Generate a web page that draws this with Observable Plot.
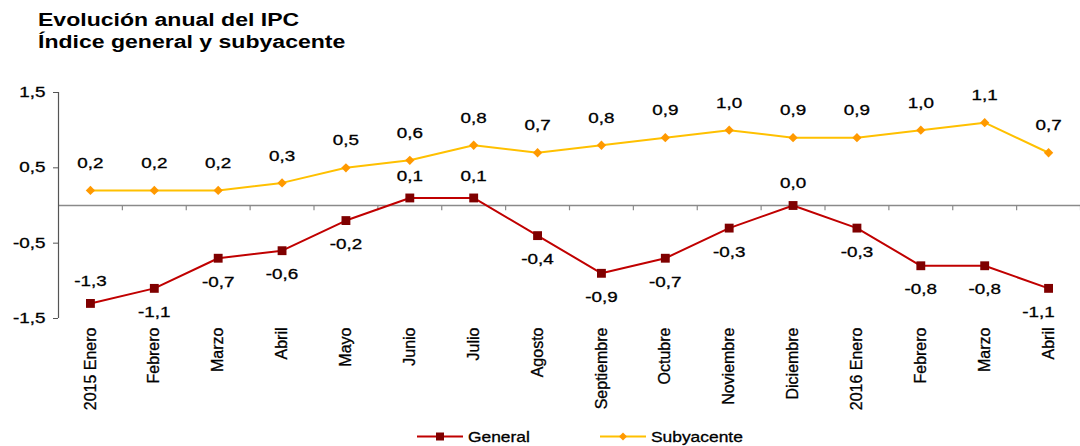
<!DOCTYPE html>
<html>
<head>
<meta charset="utf-8">
<script src="https://cdn.jsdelivr.net/npm/d3@7"></script>
<script src="https://cdn.jsdelivr.net/npm/@observablehq/plot@0.6"></script>
<style>
  body { margin: 0; background: #fff; font-family: "Liberation Sans", Arial, sans-serif; }
  #wrap { width: 1080px; height: 446px; position: relative; overflow: hidden; }
  #title { position: absolute; left: 38px; top: 9px; font-weight: bold; font-size: 18px; line-height: 22px; color: #000; transform: scaleX(1.28); transform-origin: 0 0; white-space: nowrap; }
  #chart { position: absolute; left: 0; top: 60px; }
  #chart text, #legend text { stroke: #000; stroke-width: 0.3px; }
  #legend { position: absolute; left: 0; top: 427px; width: 1080px; height: 19px; }
  #legend svg { display: block; }
</style>
</head>
<body>
<div id="wrap">
  <div id="title">Evolución anual del IPC<br>Índice general y subyacente</div>
  <div id="chart"></div>
  <div id="legend"></div>
</div>
<script>
const months = ["2015 Enero","Febrero","Marzo","Abril","Mayo","Junio","Julio","Agosto","Septiembre","Octubre","Noviembre","Diciembre","2016 Enero","Febrero ","Marzo ","Abril "];
const general = [-1.3,-1.1,-0.7,-0.6,-0.2,0.1,0.1,-0.4,-0.9,-0.7,-0.3,0.0,-0.3,-0.8,-0.8,-1.1];
const subyacente = [0.2,0.2,0.2,0.3,0.5,0.6,0.8,0.7,0.8,0.9,1.0,0.9,0.9,1.0,1.1,0.7];
const yTicks = [-1.5,-0.5,0.5,1.5];
const seriesNames = ["General", "Subyacente"];

// label placement for the general series (layout only)
const generalAbove = new Set([0,5,6,11]);

const fmt = v => d3.format(".1f")(v).replace(".", ",").replace("−","-");

const gen = months.map((m,i) => ({m, v: general[i], i}));
const sub = months.map((m,i) => ({m, v: subyacente[i], i}));

const W = 1080, ML = 58, MR = 0;
const step = (W - ML - MR) / months.length;
const FS = 14.5;

const chart = Plot.plot({
  width: W, height: 368,
  marginLeft: ML, marginRight: MR, marginTop: 32, marginBottom: 110,
  style: {fontFamily: "'Liberation Sans', Arial, sans-serif", fontSize: "15px", color: "#000", background: "#fff", overflow: "visible"},
  x: {type: "point", domain: months, padding: 0.5, round: false, label: null},
  y: {domain: [-1.5, 1.5], label: null},
  marks: [
    Plot.ruleY([0], {stroke: "#8a8a8a", strokeWidth: 1.5}),
    Plot.ruleX(months, {x: d => d, y1: 0, y2: -0.07, dx: step/2, stroke: "#8a8a8a", strokeWidth: 1.2}),
    Plot.ruleX([months[0]], {y1: -1.5, y2: 1.5, dx: -step/2, stroke: "#555", strokeWidth: 1.2}),
    Plot.axisY({ticks: yTicks, tickFormat: fmt, tickSize: 5, tickPadding: 8, stroke: "#555", fontSize: FS, fill: "#000"}),
    Plot.axisX({tickRotate: -90, tickSize: 0, tickPadding: 9, fontSize: 16, fill: "#000", tickFormat: d => d.trim()}),
    Plot.line(sub, {x: "m", y: "v", stroke: "#FFC000", strokeWidth: 2}),
    Plot.line(gen, {x: "m", y: "v", stroke: "#C00000", strokeWidth: 2}),
    Plot.dot(sub, {x: "m", y: "v", symbol: "diamond2", r: 4.2, fill: "#FF9900", stroke: "none"}),
    Plot.dot(gen, {x: "m", y: "v", symbol: "square", r: 5, fill: "#7F0000", stroke: "none"}),
    Plot.text(sub, {x: "m", y: "v", text: d => fmt(d.v), dy: -27, fontSize: FS, fill: "#000"}),
    Plot.text(gen.filter(d => generalAbove.has(d.i)), {x: "m", y: "v", text: d => fmt(d.v), dy: -22, fontSize: FS, fill: "#000"}),
    Plot.text(gen.filter(d => !generalAbove.has(d.i) && d.i !== 15), {x: "m", y: "v", text: d => fmt(d.v), dy: 24, fontSize: FS, fill: "#000"}),
    Plot.text(gen.filter(d => d.i === 15), {x: "m", y: "v", text: d => fmt(d.v), dy: 24, dx: -10, fontSize: FS, fill: "#000"})
  ]
});

// widen horizontal texts to match the reference's wide lettering
const SX = 1.3;
chart.querySelectorAll("text").forEach(t => {
  const tr = t.getAttribute("transform");
  if (tr && tr.includes("rotate")) return;
  if (tr) t.setAttribute("transform", tr + ` scale(${SX},1)`);
  else {
    const x = +t.getAttribute("x") || 0, y = +t.getAttribute("y") || 0;
    t.setAttribute("transform", `translate(${x},${y}) scale(${SX},1) translate(${-x},${-y})`);
  }
});
document.getElementById("chart").appendChild(chart);

// legend
const lg = d3.select("#legend").append("svg").attr("width", 1080).attr("height", 19);
const items = [
  {name: seriesNames[0], line: "#C00000", fill: "#7F0000", sym: d3.symbolSquare, x: 417, size: 64},
  {name: seriesNames[1], line: "#FFC000", fill: "#FF9900", sym: d3.symbolDiamond2, x: 600, size: 40}
];
items.forEach(it => {
  const g = lg.append("g").attr("transform", `translate(${it.x},9.5)`);
  g.append("line").attr("x1", 0).attr("x2", 46).attr("stroke", it.line).attr("stroke-width", 2);
  g.append("path").attr("d", d3.symbol(it.sym, it.size)()).attr("transform", "translate(23,0)").attr("fill", it.fill);
  g.append("text").attr("transform", "translate(51,5) scale(1.2,1)").attr("font-size", 14.5).attr("font-family", "'Liberation Sans', Arial, sans-serif").attr("fill", "#000").text(it.name);
});
</script>
</body>
</html>
